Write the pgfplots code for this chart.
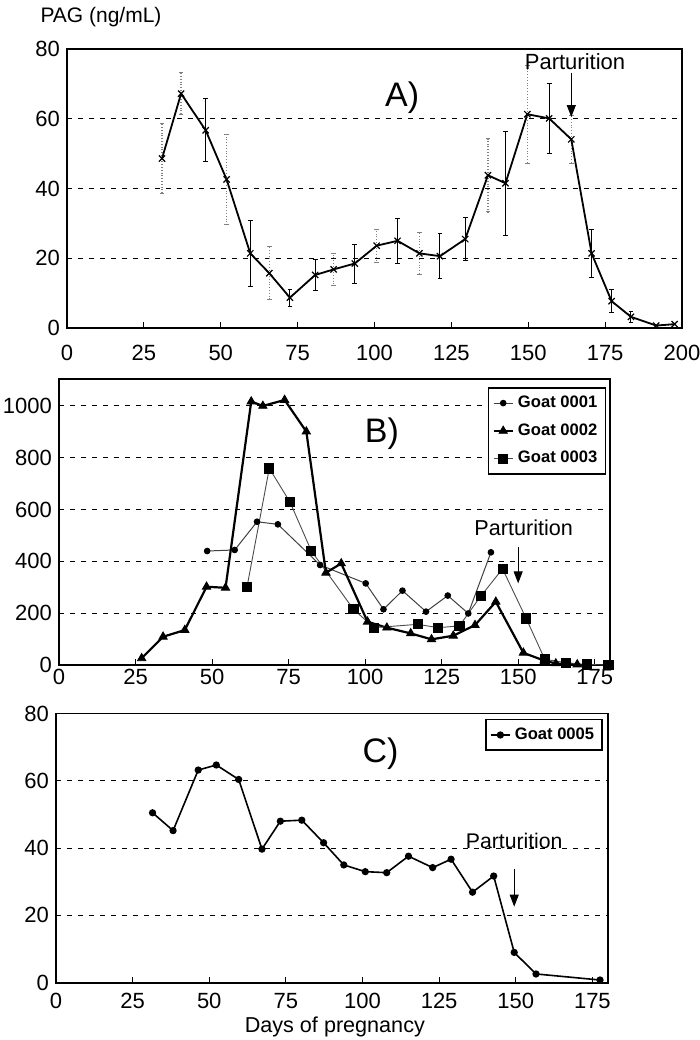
\documentclass[border=0pt]{standalone}
\usepackage{pgfplots}
\pgfplotsset{compat=1.18}
\usepackage{fontspec}
\setmainfont{Liberation Sans}
\usetikzlibrary{arrows.meta}

\pgfplotsset{
  goatbase/.style={
    scale only axis,
    anchor=south west,
    xmin=0,
    xtick={0,25,...,200},
    tick align=inside,
    xtick pos=left,
    ytick pos=left,
    major tick length=3pt,
    ytick style={draw=none},
    xtick style={black, line width=0.5pt},
    ymajorgrids,
    major grid style={black, line width=0.45pt, dash pattern=on 2.5pt off 3pt},
    axis line style={black, line width=0.9pt},
    tick label style={font=\fontsize{11}{12}\selectfont},
    /pgf/number format/assume math mode=true,
    /pgf/number format/1000 sep={},
    clip=false,
    legend image code/.code={\draw[mark repeat=2,mark phase=2] plot coordinates {(0cm,0cm) (0.17cm,0cm) (0.34cm,0cm)};},
  },
}

\begin{document}
\begin{tikzpicture}
\useasboundingbox (0,0) rectangle (350pt,520pt);

% ---------------- Panel A ----------------
\begin{axis}[goatbase, at={(33.5pt,356pt)}, width=307.5pt, height=139.5pt,
  xmax=200, ymin=0, ymax=80, ytick={0,20,...,80},
  xticklabel style={yshift=-5pt}]
% dotted grey error bars
\addplot[draw=none, forget plot,
  error bars/.cd, y dir=both, y explicit,
  error bar style={draw=gray, densely dotted, line width=0.6pt},
  error mark options={rotate=90, draw=gray, solid, mark size=1.2pt}]
  table[x index=0, y index=1, y error index=2] {
30.9 48.6 10
37.1 67.2 6
51.9 42.6 13
65.8 15.7 7.6
86.7 16.8 4.5
100.7 23.6 4.7
114.6 21.4 6
136.9 43.8 10.5
149.7 61.3 14
164.0 54.1 7
};
% solid black error bars
\addplot[draw=none, forget plot,
  error bars/.cd, y dir=both, y explicit,
  error bar style={draw=black, solid, line width=0.5pt},
  error mark options={rotate=90, draw=black, solid, mark size=1.2pt}]
  table[x index=0, y index=1, y error index=2] {
45.1 56.7 9
59.6 21.4 9.5
72.5 8.7 2.5
80.7 15.2 4.5
93.6 18.5 5.6
107.5 25.0 6.5
121.3 20.6 6.5
129.5 25.5 6.2
142.6 41.5 15
156.8 60.1 10
170.6 21.4 7
177.1 7.7 3.3
183.4 3.2 1.5
};
% mean line
\addplot[black, line width=0.9pt, mark=x, mark size=2.2pt, mark options={line width=0.6pt}]
  coordinates {
(30.9,48.6) (37.1,67.2) (45.1,56.7) (51.9,42.6) (59.6,21.4) (65.8,15.7)
(72.5,8.7) (80.7,15.2) (86.7,16.8) (93.6,18.5) (100.7,23.6) (107.5,25.0)
(114.6,21.4) (121.3,20.6) (129.5,25.5) (136.9,43.8) (142.6,41.5) (149.7,61.3)
(156.8,60.1) (164.0,54.1) (170.6,21.4) (177.1,7.7) (183.4,3.2) (191.6,0.7) (197.6,1.1)
};
\node[font=\fontsize{17}{20}\selectfont] at (axis cs:109,66) {A)};
\node[font=\fontsize{11}{13}\selectfont] at (axis cs:165.2,76.3) {Parturition};
\draw[black, line width=0.6pt, -{Triangle[length=6pt,width=4.5pt]}] (axis cs:164,73.2) -- (axis cs:164,60.5);
\node[font=\fontsize{10.5}{12}\selectfont] at (rel axis cs:0,1) [xshift=17pt, yshift=16pt] {PAG (ng/mL)};
\end{axis}

% ---------------- Panel B ----------------
\begin{axis}[goatbase, at={(29.5pt,187.5pt)}, width=275.5pt, height=143pt,
  xmax=180, ymin=0, ymax=1104, ytick={0,200,...,1000},
  xticklabel style={yshift=1.5pt},
  legend style={at={(rel axis cs:0.993,0.972)}, anchor=north east, draw=black, line width=0.8pt,
    font=\bfseries\fontsize{8.3}{9}\selectfont, row sep=2.6pt, inner sep=2pt, cells={anchor=west}},
  ]
\addplot[black!75, line width=0.5pt, mark=*, mark size=1.4pt, mark options={solid, black, fill=black}]
  coordinates {
(48.4,440) (57.4,444) (64.7,553) (71.5,543) (85.3,386) (100.2,315) (106.0,215)
(112.2,287) (119.9,206) (127.0,268) (133.7,199) (141.1,435)
};
\addlegendentry{Goat 0001}
\addplot[black, line width=1.1pt, mark=triangle*, mark size=2.4pt, mark options={solid, line width=0.4pt, fill=black}]
  coordinates {
(27.0,26) (34.0,109) (41.1,135) (48.2,302) (54.4,298) (62.8,1017) (66.6,1000)
(73.7,1023) (80.8,901) (87.2,356) (92.2,392) (100.8,167) (107.1,144) (114.9,122)
(121.7,99) (128.8,113) (135.9,154) (142.7,244) (151.7,47) (158.5,17) (162.3,6) (169.3,2)
};
\addlegendentry{Goat 0002}
\addplot[black!70, line width=0.45pt, mark=square*, mark size=2.3pt, mark options={solid, black, fill=black}]
  coordinates {
(61.4,300) (68.7,759) (75.5,628) (82.4,441) (96.2,215) (102.9,144) (117.2,157)
(123.9,144) (130.8,151) (137.8,266) (144.9,371) (152.6,180) (158.7,22) (165.5,9)
(172.5,2) (179.5,0)
};
\addlegendentry{Goat 0003}
\node[font=\fontsize{17}{20}\selectfont] at (axis cs:105.5,892) {B)};
\node[font=\fontsize{10.8}{13}\selectfont] at (axis cs:151.8,529) {Parturition};
\draw[black, line width=0.5pt, -{Triangle[length=6pt,width=4.5pt]}] (axis cs:150,455) -- (axis cs:150,315);
\end{axis}

% ---------------- Panel C ----------------
\begin{axis}[goatbase, at={(28pt,28.65pt)}, width=275.85pt, height=134.6pt,
  xmax=180, ymin=0, ymax=80, ytick={0,20,...,80},
  xticklabel style={yshift=-1.8pt},
  legend style={at={(rel axis cs:0.9915,0.98)}, anchor=north east, draw=black, line width=0.8pt,
    font=\bfseries\fontsize{8.3}{9}\selectfont, inner sep=2pt, cells={anchor=west}},
  ]
\addplot[black, line width=0.8pt, mark=*, mark size=1.4pt, mark options={solid, fill=black}]
  coordinates {
(31.5,50.5) (38.2,45.2) (46.4,63.2) (52.3,64.7) (59.6,60.4) (67.2,39.7) (73.2,48.0)
(80.2,48.3) (87.3,41.6) (93.9,35.0) (100.9,33.0) (107.9,32.7) (115.0,37.6) (122.9,34.2)
(128.9,36.7) (135.9,26.9) (142.8,31.7) (149.5,9.0) (156.6,2.6) (177.5,0.8)
};
\addlegendentry{Goat 0005}
\node[font=\fontsize{17}{20}\selectfont] at (axis cs:105.9,68) {C)};
\node[font=\fontsize{10.6}{13}\selectfont] at (axis cs:149.5,42.1) {Parturition};
\draw[black, line width=0.5pt, -{Triangle[length=6pt,width=4.5pt]}] (axis cs:149.5,33.8) -- (axis cs:149.5,22.6);
\node[font=\fontsize{10.8}{13}\selectfont] at (rel axis cs:0.5,0) [yshift=-22pt, xshift=1.5pt] {Days of pregnancy};
\end{axis}
\end{tikzpicture}
\end{document}
